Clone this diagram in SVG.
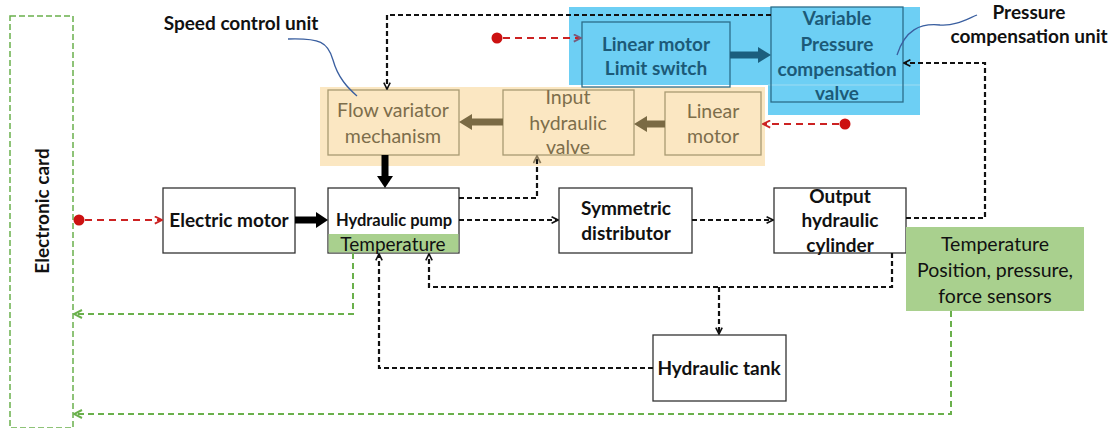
<svg xmlns="http://www.w3.org/2000/svg" width="1113" height="428" viewBox="0 0 1113 428">
<defs>
<style>
.box{fill:#fff;stroke:#333;stroke-width:1.3}
.obox{fill:#fbe7c2;stroke:#a89a72;stroke-width:1.3}
.bbox{fill:none;stroke:#2c6d8a;stroke-width:1.3}
.t{font-family:Lato,"Liberation Sans",sans-serif;font-size:19.5px;text-anchor:middle;fill:#111}
.b{font-weight:bold;font-size:19px}
.ot{fill:#7d6e4b}
.bt{fill:#1c5a78;font-weight:bold;font-size:19px}
.blk{fill:none;stroke:#111;stroke-width:2.2;stroke-dasharray:5,3}
.red{fill:none;stroke:#cc2222;stroke-width:2.2;stroke-dasharray:7,5}
.grn{fill:none;stroke:#6ab04c;stroke-width:2;stroke-dasharray:6,4}
</style>
<marker id="ak" viewBox="0 0 10 10" refX="9" refY="5" markerWidth="8" markerHeight="8" markerUnits="userSpaceOnUse" orient="auto"><path d="M1,1 L9,5 L1,9" fill="none" stroke="#111" stroke-width="2"/></marker>
<marker id="ar" viewBox="0 0 10 10" refX="9" refY="5" markerWidth="9" markerHeight="9" markerUnits="userSpaceOnUse" orient="auto"><path d="M1,1 L9,5 L1,9" fill="none" stroke="#cc2222" stroke-width="2"/></marker>
<marker id="ap" viewBox="0 0 10 10" refX="9" refY="5" markerWidth="9" markerHeight="9" markerUnits="userSpaceOnUse" orient="auto"><path d="M1,1 L9,5 L1,9" fill="none" stroke="#7a5a7a" stroke-width="2"/></marker>
<marker id="ag" viewBox="0 0 10 10" refX="9" refY="5" markerWidth="10" markerHeight="10" markerUnits="userSpaceOnUse" orient="auto"><path d="M1,1 L9,5 L1,9" fill="none" stroke="#6ab04c" stroke-width="2"/></marker>
<marker id="ab" viewBox="0 0 10 10" refX="9" refY="5" markerWidth="9" markerHeight="9" markerUnits="userSpaceOnUse" orient="auto"><path d="M1,1 L9,5 L1,9" fill="none" stroke="#8a7a5a" stroke-width="2"/></marker>
</defs>
<rect width="1113" height="428" fill="#fff"/>

<!-- background regions -->
<g id="speed-control-unit">
<rect x="320" y="87" width="445" height="79" fill="#fbe7c2"/>
</g>
<g id="pressure-compensation-unit">
<path d="M569,7 H920 V115 H768 V85 H569 Z" fill="#6dcff4"/>
<line x1="768" y1="85" x2="920" y2="85" stroke="#9fdcf2" stroke-width="1"/>
</g>

<g id="electronic-card">
<rect x="10" y="16" width="63" height="412" fill="none" stroke="#6ab04c" stroke-width="1.5" stroke-dasharray="6,3"/>
<text class="t b" transform="translate(49,211) rotate(-90)">Electronic card</text>
</g>

<g id="electric-motor">
<rect class="box" x="163" y="188" width="132" height="65"/>
<text class="t b" x="229" y="227">Electric motor</text>
</g>

<g id="hydraulic-pump">
<rect class="box" x="328" y="188" width="131" height="65"/>
<rect x="328.6" y="234" width="129.8" height="18.4" fill="#a9d08e"/>
<text class="t b" x="394" y="226" style="font-size:16.5px">Hydraulic pump</text>
<text class="t" x="393" y="251" style="font-size:19px">Temperature</text>
</g>

<g id="symmetric-distributor">
<rect class="box" x="559" y="188" width="133" height="65"/>
<text class="t b" x="626" y="215">Symmetric</text>
<text class="t b" x="626" y="240">distributor</text>
</g>

<g id="output-hydraulic-cylinder">
<rect class="box" x="774" y="188" width="132" height="65"/>
<text class="t b" x="840" y="203">Output</text>
<text class="t b" x="840" y="227">hydraulic</text>
<text class="t b" x="840" y="252">cylinder</text>
</g>

<g id="sensors">
<rect x="906" y="227" width="178" height="84" fill="#a9d08e"/>
<text class="t" x="995" y="251">Temperature</text>
<text class="t" x="995" y="277">Position, pressure,</text>
<text class="t" x="995" y="303">force sensors</text>
</g>

<g id="hydraulic-tank">
<rect class="box" x="653" y="335" width="133" height="66"/>
<text class="t b" x="719" y="375">Hydraulic tank</text>
</g>

<g id="flow-variator">
<rect class="obox" x="328" y="90" width="131" height="65"/>
<text class="t ot" x="393" y="117">Flow variator</text>
<text class="t ot" x="393" y="143">mechanism</text>
</g>

<g id="input-hydraulic-valve">
<rect class="obox" x="503" y="90" width="131" height="65"/>
<text class="t ot" x="568" y="104">Input</text>
<text class="t ot" x="568" y="130">hydraulic</text>
<text class="t ot" x="568" y="154">valve</text>
</g>

<g id="linear-motor">
<rect class="obox" x="665" y="92" width="96" height="63"/>
<text class="t ot" x="713" y="118">Linear</text>
<text class="t ot" x="713" y="143">motor</text>
</g>

<g id="linear-motor-limit-switch">
<rect class="bbox" x="582" y="22" width="148" height="65"/>
<text class="t bt" x="656" y="51">Linear motor</text>
<text class="t bt" x="656" y="75">Limit switch</text>
</g>

<g id="pressure-compensation-valve">
<rect class="bbox" x="771" y="7" width="132" height="95"/>
<text class="t bt" x="837" y="25">Variable</text>
<text class="t bt" x="837" y="51">Pressure</text>
<text class="t bt" x="837" y="76">compensation</text>
<text class="t bt" x="837" y="100">valve</text>
</g>

<g id="labels">
<text class="t b" x="241" y="30">Speed control unit</text>
<path d="M288,39 C320,38 328,42 333,60 C338,78 348,88 357,96" fill="none" stroke="#3a5fa0" stroke-width="1.3"/>
<text class="t b" x="1029" y="19">Pressure</text>
<text class="t b" x="1029" y="43">compensation unit</text>
<path d="M977,15 C965,20 955,26 940,25 C920,23 905,30 897,55" fill="none" stroke="#3a5fa0" stroke-width="1.3"/>
</g>

<g id="connectors">
<!-- thick arrows -->
<line x1="295" y1="220" x2="318" y2="220" stroke="#000" stroke-width="7"/>
<path d="M316,212 L328,220 L316,228 Z" fill="#000"/>
<line x1="385" y1="155" x2="385" y2="178" stroke="#000" stroke-width="7"/>
<path d="M377,176 L385,188 L393,176 Z" fill="#000"/>
<line x1="503" y1="122" x2="470" y2="122" stroke="#7a6a44" stroke-width="7"/>
<path d="M472,114 L459,122 L472,130 Z" fill="#7a6a44"/>
<line x1="665" y1="124" x2="645" y2="124" stroke="#7a6a44" stroke-width="7"/>
<path d="M647,116 L634,124 L647,132 Z" fill="#7a6a44"/>
<line x1="730" y1="55" x2="760" y2="55" stroke="#1b5e7e" stroke-width="7"/>
<path d="M758,47 L771,55 L758,63 Z" fill="#1b5e7e"/>

<!-- red control signals -->
<circle cx="79" cy="220" r="5.5" fill="#cc1111"/>
<path class="red" d="M85,220 H162" marker-end="url(#ar)"/>
<circle cx="497" cy="38" r="5.5" fill="#cc1111"/>
<path class="red" d="M503,38 H581" marker-end="url(#ap)"/>
<circle cx="845" cy="124" r="5.5" fill="#cc1111"/>
<path class="red" d="M839,124 H763" marker-end="url(#ar)"/>

<!-- black hydraulic flows -->
<path class="blk" d="M771,15 H387 V89" marker-end="url(#ak)"/>
<path class="blk" d="M906,218 H985 V63 H904" marker-end="url(#ak)"/>
<path class="blk" d="M459,198 H537 V156" marker-end="url(#ab)"/>
<path class="blk" d="M459,220 H558" marker-end="url(#ak)"/>
<path class="blk" d="M692,220 H773" marker-end="url(#ak)"/>
<path class="blk" d="M892,253 V287 H429 V254" marker-end="url(#ak)"/>
<path class="blk" d="M719,287 V334" marker-end="url(#ak)"/>
<path class="blk" d="M653,368 H379 V254" marker-end="url(#ak)"/>

<!-- green sensor signals -->
<path class="grn" d="M353,253 V314 H74" marker-end="url(#ag)"/>
<path class="grn" d="M951,311 V414 H74" marker-end="url(#ag)"/>
</g>
</svg>
